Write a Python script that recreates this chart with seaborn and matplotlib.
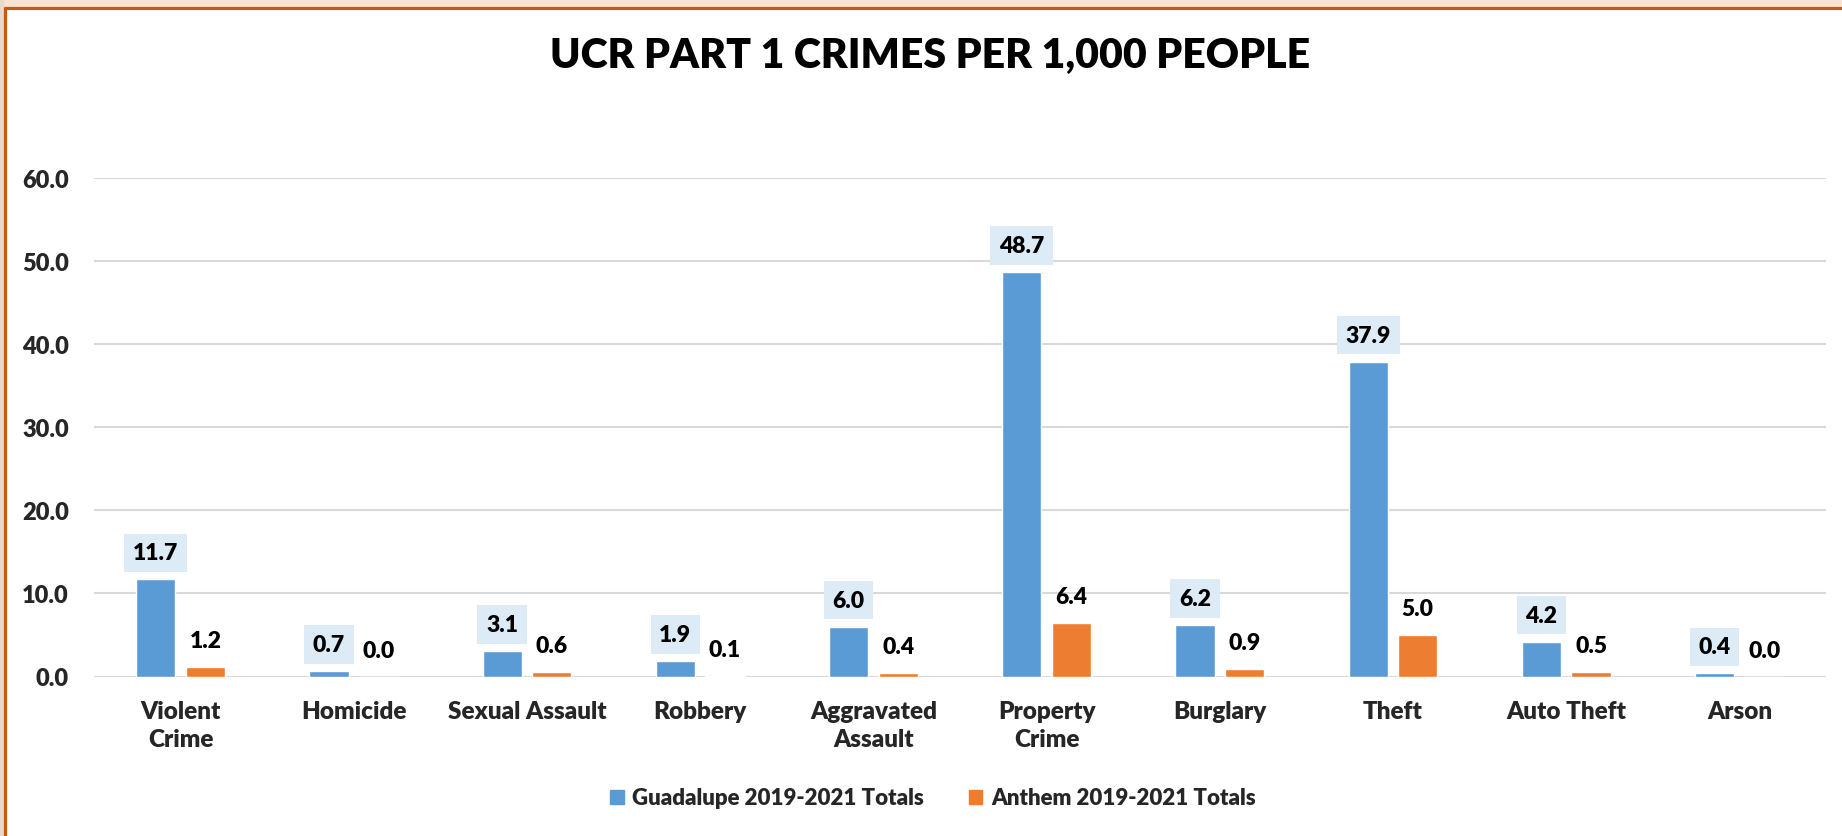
import matplotlib
matplotlib.use("Agg")
import matplotlib.pyplot as plt
import seaborn as sns
import pandas as pd
from matplotlib.patches import Rectangle
from matplotlib.lines import Line2D

# chart data
categories = ["Violent\nCrime", "Homicide", "Sexual Assault", "Robbery", "Aggravated\nAssault",
              "Property\nCrime", "Burglary", "Theft", "Auto Theft", "Arson"]
guadalupe = [11.7, 0.7, 3.1, 1.9, 6.0, 48.7, 6.2, 37.9, 4.2, 0.4]
anthem = [1.2, 0.0, 0.6, 0.1, 0.4, 6.4, 0.9, 5.0, 0.5, 0.0]
series_names = ["Guadalupe 2019-2021 Totals", "Anthem 2019-2021 Totals"]
y_ticks = [0, 10, 20, 30, 40, 50, 60]
title = "UCR PART 1 CRIMES PER 1,000 PEOPLE"

colors = ["#5B9BD5", "#ED7D31"]
WEIGHT = "heavy"

df = pd.DataFrame({
    "category": categories * 2,
    "value": guadalupe + anthem,
    "series": [series_names[0]] * len(categories) + [series_names[1]] * len(categories),
})

sns.set_theme(style="white")
plt.rcParams["font.family"] = ["Lato", "DejaVu Sans"]
plt.rcParams["font.weight"] = WEIGHT

W, H = 1842, 837
fig = plt.figure(figsize=(W / 100, H / 100), dpi=100)
fig.patch.set_facecolor("white")

ax = fig.add_axes([94 / W, 1 - 677.5 / H, 1732 / W, (677.5 - 179) / H])

sns.barplot(data=df, x="category", y="value", hue="series", palette=colors,
            width=0.573, gap=0.21, order=categories, hue_order=series_names,
            saturation=1, ax=ax, legend=False, zorder=3)

ax.set_xlim(-0.5, len(categories) - 0.5)
ax.set_ylim(0, 60)
ax.set_yticks(y_ticks)
ax.set_yticklabels([f"{v:.1f}" for v in y_ticks], fontsize=17, fontweight=WEIGHT)
ax.tick_params(axis="y", length=0, pad=18)
ax.tick_params(axis="x", length=0, pad=17, labelsize=17.5)
for lbl in ax.get_xticklabels():
    lbl.set_fontweight(WEIGHT)
    lbl.set_linespacing(1.35)
ax.set_xlabel("")
ax.set_ylabel("")
ax.grid(axis="y", color="#D9D9D9", linewidth=1.5, zorder=0)
ax.set_axisbelow(True)
for s in ax.spines.values():
    s.set_visible(False)

# data labels
for i, cont in enumerate(ax.containers):
    for bar in cont:
        h = bar.get_height()
        xc = bar.get_x() + bar.get_width() / 2
        kw = dict(xy=(xc, h), xytext=(0, 19), textcoords="offset points",
                  ha="center", va="center", fontsize=16.5, fontweight=WEIGHT,
                  color="black", annotation_clip=False)
        if i == 0:
            kw["bbox"] = dict(boxstyle="square,pad=0.38", fc="#DDEBF7", ec="none")
        ax.annotate(f"{h:.1f}", **kw)

# title
fig.text(930 / W, 1 - 56 / H, title, ha="center", va="center",
         fontsize=29.5, fontweight=WEIGHT, color="black")

# legend
handles = [Rectangle((0, 0), 1, 1, color=c) for c in colors]
fig.legend(handles, series_names, loc="center", bbox_to_anchor=(933 / W, 1 - 799 / H),
           ncol=2, frameon=False, handlelength=0.6, handleheight=0.6,
           handletextpad=0.4, columnspacing=2.0, prop={"weight": WEIGHT, "size": 16})

# slide background strip and orange frame
fig.patches.append(Rectangle((0, 1 - 7 / H), 1, 7 / H, transform=fig.transFigure,
                             color="#FBE3D1", zorder=0))
fig.patches.append(Rectangle((0, 0), 3 / W, 1, transform=fig.transFigure,
                             color="#E9D8CC", zorder=0))
fig.lines.append(Line2D([4.5 / W, 1], [1 - 8.5 / H, 1 - 8.5 / H], transform=fig.transFigure,
                        color="#C55A11", linewidth=2.3))
fig.lines.append(Line2D([4.5 / W, 4.5 / W], [0, 1 - 8.5 / H], transform=fig.transFigure,
                        color="#C55A11", linewidth=2.3))

fig.savefig("out.png", dpi=100)
